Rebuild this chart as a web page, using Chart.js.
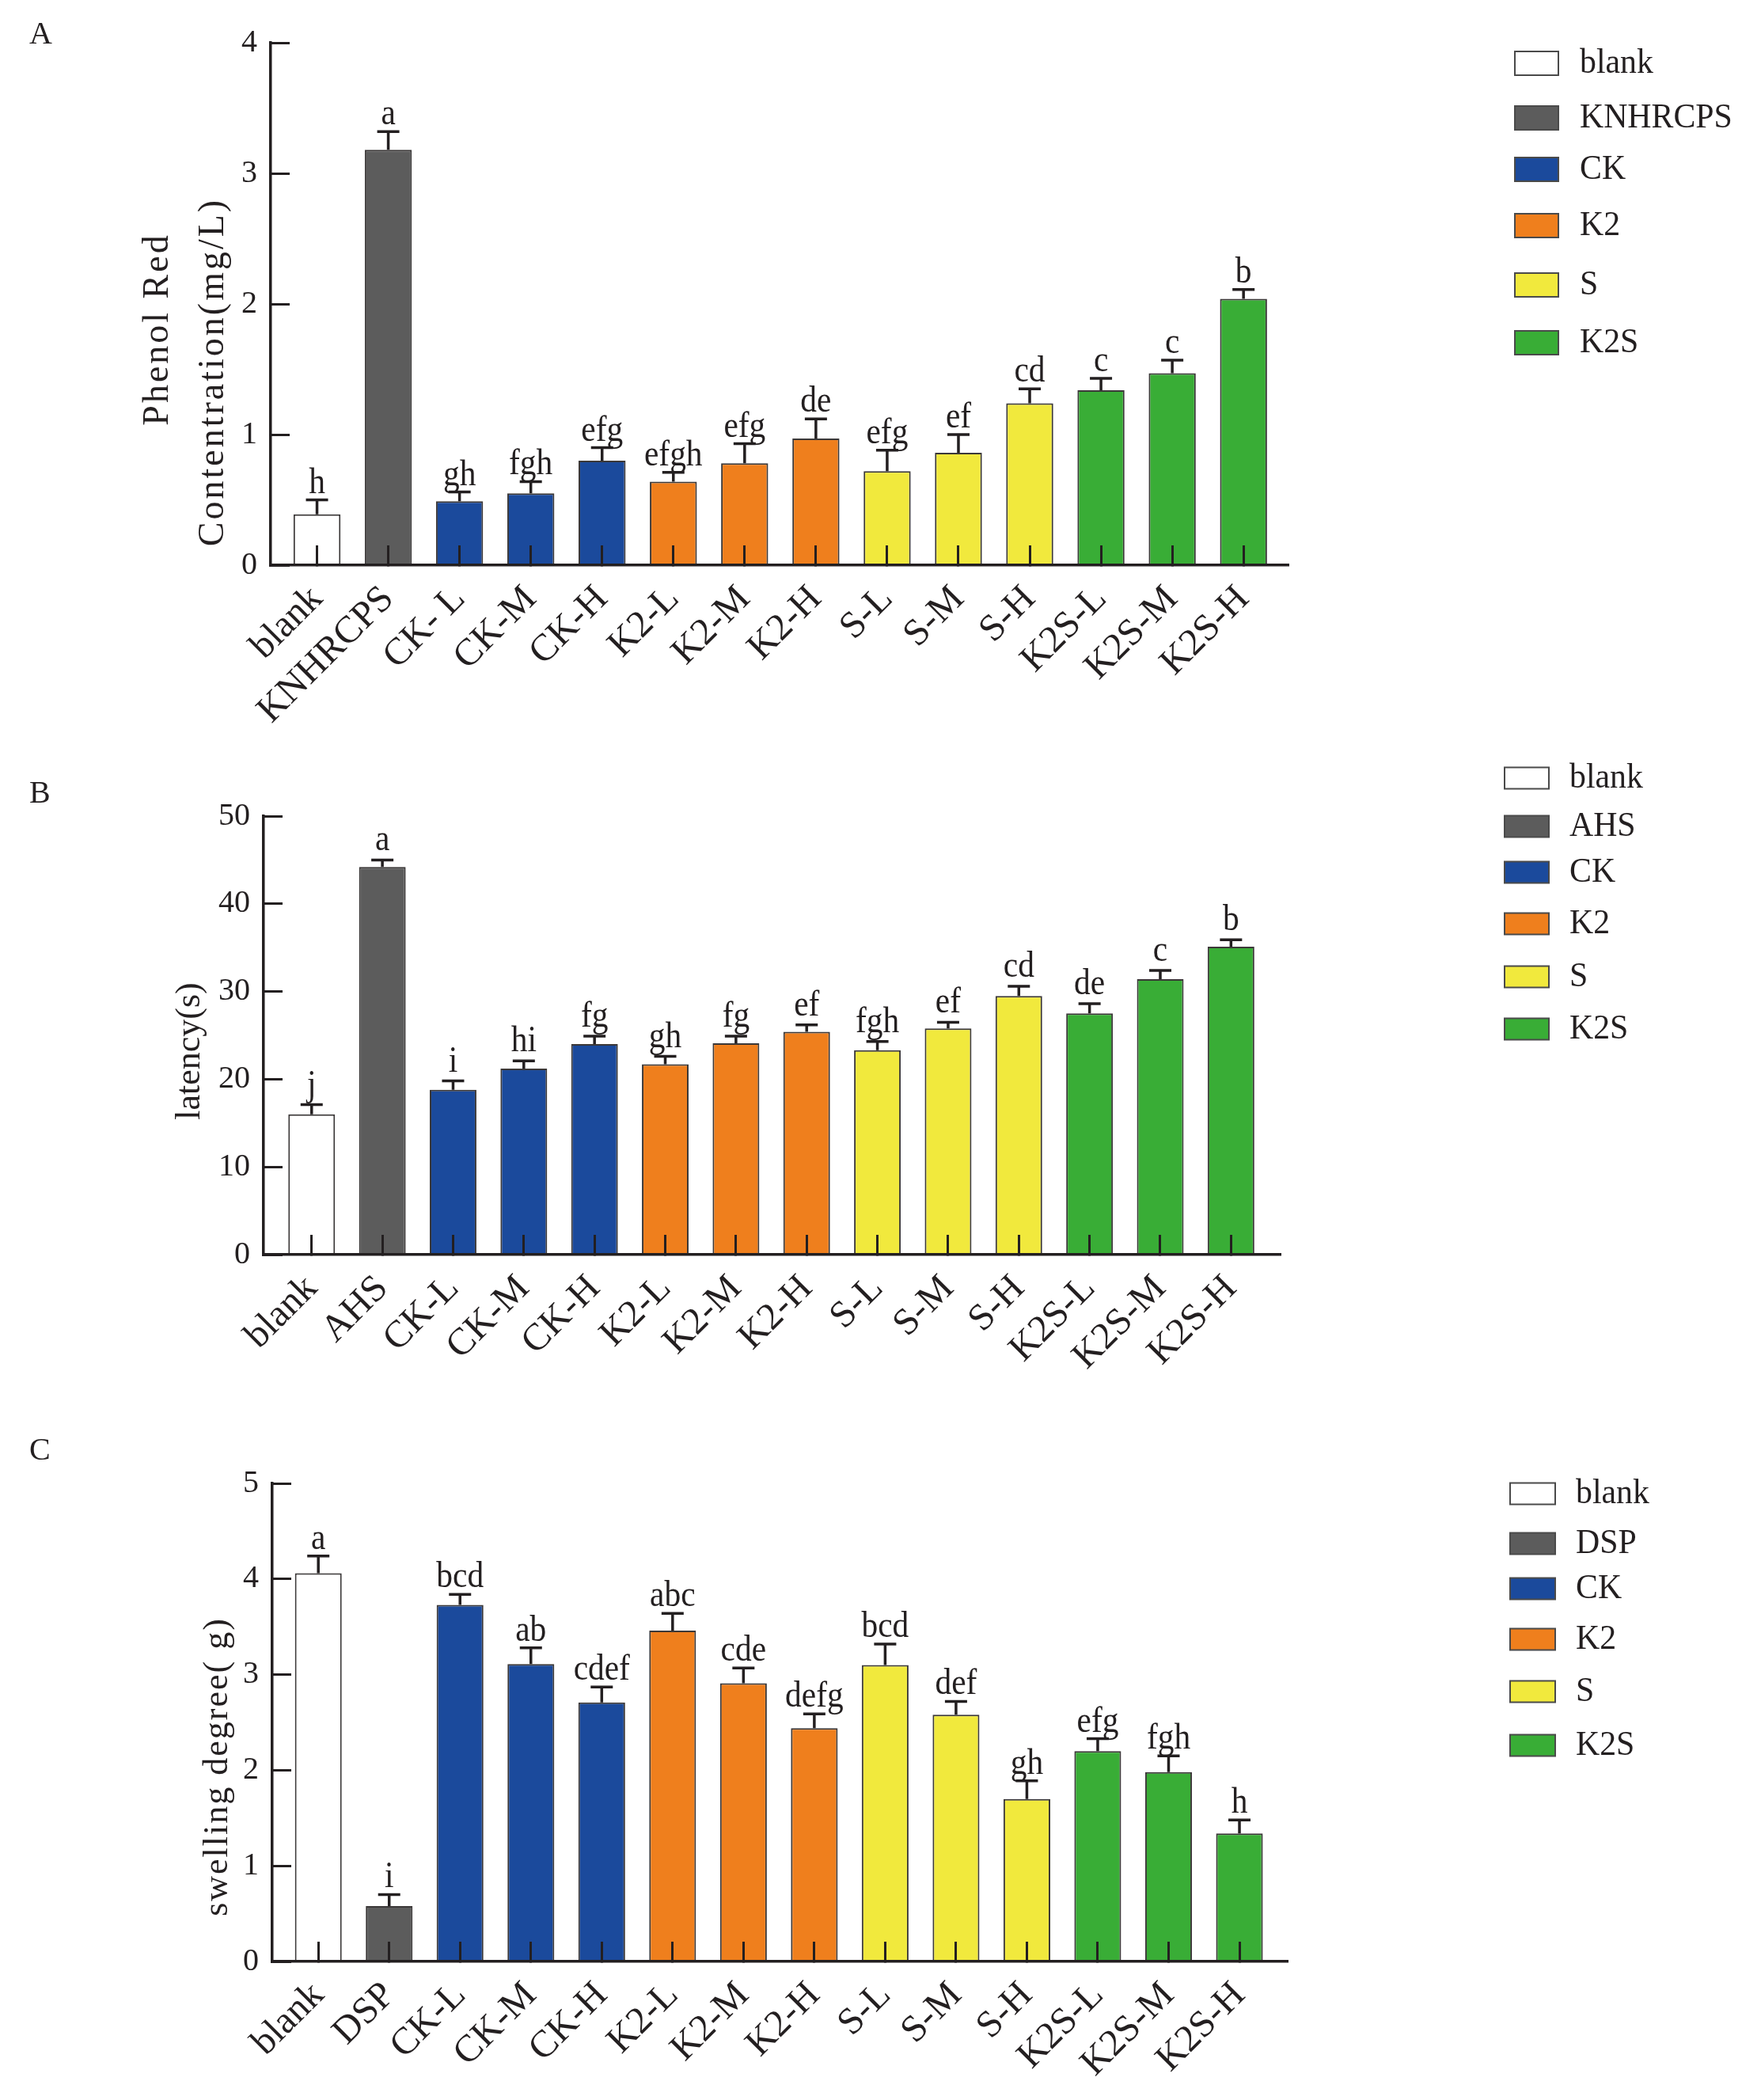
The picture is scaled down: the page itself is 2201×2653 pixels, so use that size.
<!DOCTYPE html>
<html>
<head>
<meta charset="utf-8">
<script src="https://cdn.jsdelivr.net/npm/chart.js@4.4.0/dist/chart.umd.min.js"></script>
<style>
  html, body { margin: 0; padding: 0; background: #fff; }
  #page { position: relative; width: 2201px; height: 2653px; overflow: hidden; background: #fff; }
  canvas { position: absolute; left: 0; }
</style>
</head>
<body>
<div id="page">
  <canvas id="chartA" width="2201" height="960" style="top:0px"></canvas>
  <canvas id="chartB" width="2201" height="900" style="top:930px"></canvas>
  <canvas id="chartC" width="2201" height="960" style="top:1780px"></canvas>
</div>
<script>
// group colours and which group each bar belongs to
const groupColors = ['#ffffff', '#5c5c5c', '#1b4a9c', '#ef7f1d', '#f1e93d', '#39ad36'];
const groupOf = [0, 1, 2, 2, 2, 3, 3, 3, 4, 4, 4, 5, 5, 5];

// panel A - phenol red
const groupsA = ['blank', 'KNHRCPS', 'CK', 'K2', 'S', 'K2S'];
const labelsA = ['blank', 'KNHRCPS', 'CK- L', 'CK-M', 'CK-H', 'K2-L', 'K2-M', 'K2-H', 'S-L', 'S-M', 'S-H', 'K2S-L', 'K2S-M', 'K2S-H'];
const valuesA = [0.39, 3.18, 0.49, 0.55, 0.80, 0.64, 0.78, 0.97, 0.72, 0.86, 1.24, 1.34, 1.47, 2.04];
const errorsA = [0.11, 0.14, 0.07, 0.09, 0.10, 0.07, 0.15, 0.15, 0.16, 0.14, 0.11, 0.09, 0.10, 0.07];
const lettersA = ['h', 'a', 'gh', 'fgh', 'efg', 'efgh', 'efg', 'de', 'efg', 'ef', 'cd', 'c', 'c', 'b'];
const yMaxA = 4, yStepA = 1;

// panel B - latency
const groupsB = ['blank', 'AHS', 'CK', 'K2', 'S', 'K2S'];
const labelsB = ['blank', 'AHS', 'CK-L', 'CK-M', 'CK-H', 'K2-L', 'K2-M', 'K2-H', 'S-L', 'S-M', 'S-H', 'K2S-L', 'K2S-M', 'K2S-H'];
const valuesB = [16.0, 44.2, 18.8, 21.2, 24.0, 21.7, 24.1, 25.4, 23.3, 25.8, 29.5, 27.5, 31.4, 35.1];
const errorsB = [1.1, 0.8, 1.0, 0.9, 0.9, 0.9, 0.8, 0.8, 1.0, 0.7, 1.1, 1.1, 1.0, 0.8];
const lettersB = ['j', 'a', 'i', 'hi', 'fg', 'gh', 'fg', 'ef', 'fgh', 'ef', 'cd', 'de', 'c', 'b'];
const yMaxB = 50, yStepB = 10;

// panel C - swelling
const groupsC = ['blank', 'DSP', 'CK', 'K2', 'S', 'K2S'];
const labelsC = ['blank', 'DSP', 'CK-L', 'CK-M', 'CK-H', 'K2-L', 'K2-M', 'K2-H', 'S-L', 'S-M', 'S-H', 'K2S-L', 'K2S-M', 'K2S-H'];
const valuesC = [4.06, 0.58, 3.73, 3.11, 2.71, 3.46, 2.91, 2.44, 3.10, 2.58, 1.70, 2.20, 1.98, 1.34];
const errorsC = [0.18, 0.12, 0.11, 0.17, 0.16, 0.18, 0.16, 0.15, 0.22, 0.14, 0.19, 0.13, 0.17, 0.14];
const lettersC = ['a', 'i', 'bcd', 'ab', 'cdef', 'abc', 'cde', 'defg', 'bcd', 'def', 'gh', 'efg', 'fgh', 'h'];
const yMaxC = 5, yStepC = 1;

const ink = '#231f20';
const serif = "'Liberation Serif', 'Times New Roman', serif";

// error bars, letters, axis title, panel tag and legend
function decor(d, lay) {
  return {
    id: 'decor',
    afterDraw(chart) {
      const c = chart.ctx;
      const ys = chart.scales.y;
      const bars = chart.getDatasetMeta(0).data;
      c.save();
      c.strokeStyle = ink;
      c.fillStyle = ink;
      c.lineWidth = 3.5;
      bars.forEach((bar, i) => {
        const top = ys.getPixelForValue(d.values[i] + d.errors[i]);
        c.beginPath();
        c.moveTo(bar.x, bar.y);
        c.lineTo(bar.x, top);
        c.moveTo(bar.x - 14, top);
        c.lineTo(bar.x + 14, top);
        c.stroke();
        c.save();
        c.translate(bar.x, top - lay.letterGap);
        c.scale(0.9, 1);
        c.font = '46px ' + serif;
        c.textAlign = 'center';
        c.textBaseline = 'alphabetic';
        c.fillText(d.letters[i], 0, 0);
        c.restore();
      });

      // y title
      c.font = lay.titleSize + 'px ' + serif;
      c.letterSpacing = lay.titleSpacing + 'px';
      c.textAlign = 'center';
      c.textBaseline = 'middle';
      d.title.forEach((line, k) => {
        c.save();
        c.translate(lay.titlePos[k][0], lay.titlePos[k][1]);
        c.rotate(-Math.PI / 2);
        c.fillText(line, 0, 0);
        c.restore();
      });
      c.letterSpacing = '0px';

      // panel tag
      c.font = '40px ' + serif;
      c.textAlign = 'left';
      c.textBaseline = 'alphabetic';
      c.fillText(d.tag, lay.tagPos[0], lay.tagPos[1]);

      // legend
      c.font = '44px ' + serif;
      c.textBaseline = 'middle';
      d.groups.forEach((name, k) => {
        const y = lay.legendY[k];
        c.fillStyle = groupColors[k];
        c.fillRect(lay.legendX, y - lay.boxH / 2, lay.boxW, lay.boxH);
        c.strokeStyle = '#4a4a4a';
        c.lineWidth = 2;
        c.strokeRect(lay.legendX, y - lay.boxH / 2, lay.boxW, lay.boxH);
        c.fillStyle = ink;
        c.save();
        c.translate(lay.textX, y);
        c.scale(0.95, 1);
        c.fillText(name, 0, 0);
        c.restore();
      });
      c.restore();
    },
  };
}

function makeChart(id, d, lay) {
  return new Chart(document.getElementById(id), {
    type: 'bar',
    data: {
      datasets: [
        {
          data: d.values.map((v, i) => ({ x: i, y: v })),
          backgroundColor: groupOf.map((g) => groupColors[g]),
          borderColor: '#3b3838',
          borderWidth: 2,
          barPercentage: 0.66,
          categoryPercentage: 1,
        },
      ],
    },
    options: {
      responsive: false,
      animation: false,
      devicePixelRatio: 1,
      layout: { padding: lay.padding },
      plugins: { legend: { display: false }, tooltip: { enabled: false } },
      scales: {
        x: {
          type: 'linear',
          offset: false,
          min: lay.xMin,
          max: lay.xMax,
          border: { display: true, color: ink, width: 3.5, z: 1 },
          grid: { display: true, offset: false, z: 1, drawOnChartArea: false, drawTicks: true, tickLength: -25, color: ink, lineWidth: 3 },
          ticks: {
            stepSize: 1,
            includeBounds: false,
            autoSkip: false,
            minRotation: 45,
            maxRotation: 45,
            padding: 40,
            color: ink,
            font: { family: serif, size: 48 },
            callback: (v) => (Number.isInteger(v) && d.labels[v] !== undefined ? d.labels[v] : ''),
          },
          afterFit: (s) => { s.height = 230; },
        },
        y: {
          min: 0,
          max: d.yMax,
          border: { display: true, color: ink, width: 3.5 },
          grid: { display: true, drawOnChartArea: false, drawTicks: true, tickLength: -24, color: ink, lineWidth: 3 },
          ticks: {
            stepSize: d.yStep,
            padding: 41,
            color: ink,
            font: { family: serif, size: 40 },
          },
          afterFit: (s) => {
            s.width = 100;
            s.paddingTop = 0;
            s.paddingBottom = 0;
          },
        },
      },
    },
    plugins: [decor(d, lay)],
  });
}

makeChart('chartA',
  { values: valuesA, errors: errorsA, letters: lettersA, labels: labelsA, groups: groupsA,
    yMax: yMaxA, yStep: yStepA, title: ['Phenol Red', 'Contentration(mg/L)'], tag: 'A' },
  { padding: { left: 242, right: 574, top: 54, bottom: 16 }, xMin: -0.65, xMax: 13.62, letterGap: 9,
    titleSize: 46, titleSpacing: 3, titlePos: [[200, 416], [270, 470]], tagPos: [37, 55],
    legendX: 1914, boxW: 55, boxH: 30, textX: 1996, legendY: [80, 149, 214, 285, 360, 433] });

makeChart('chartB',
  { values: valuesB, errors: errorsB, letters: lettersB, labels: labelsB, groups: groupsB,
    yMax: yMaxB, yStep: yStepB, title: ['latency(s)'], tag: 'B' },
  { padding: { left: 233, right: 584, top: 101, bottom: 15 }, xMin: -0.68, xMax: 13.69, letterGap: 12,
    titleSize: 44, titleSpacing: 0, titlePos: [[240, 398]], tagPos: [37, 84],
    legendX: 1901, boxW: 56, boxH: 27, textX: 1983, legendY: [53, 114, 172, 237, 304, 370] });

makeChart('chartC',
  { values: valuesC, errors: errorsC, letters: lettersC, labels: labelsC, groups: groupsC,
    yMax: yMaxC, yStep: yStepC, title: ['swelling degree( g)'], tag: 'C' },
  { padding: { left: 244, right: 575, top: 94, bottom: 32 }, xMin: -0.65, xMax: 13.67, letterGap: 9,
    titleSize: 44, titleSpacing: 2, titlePos: [[275, 452]], tagPos: [37, 64],
    legendX: 1908, boxW: 57, boxH: 27, textX: 1991, legendY: [107, 170, 227, 291, 357, 425] });
</script>
</body>
</html>
